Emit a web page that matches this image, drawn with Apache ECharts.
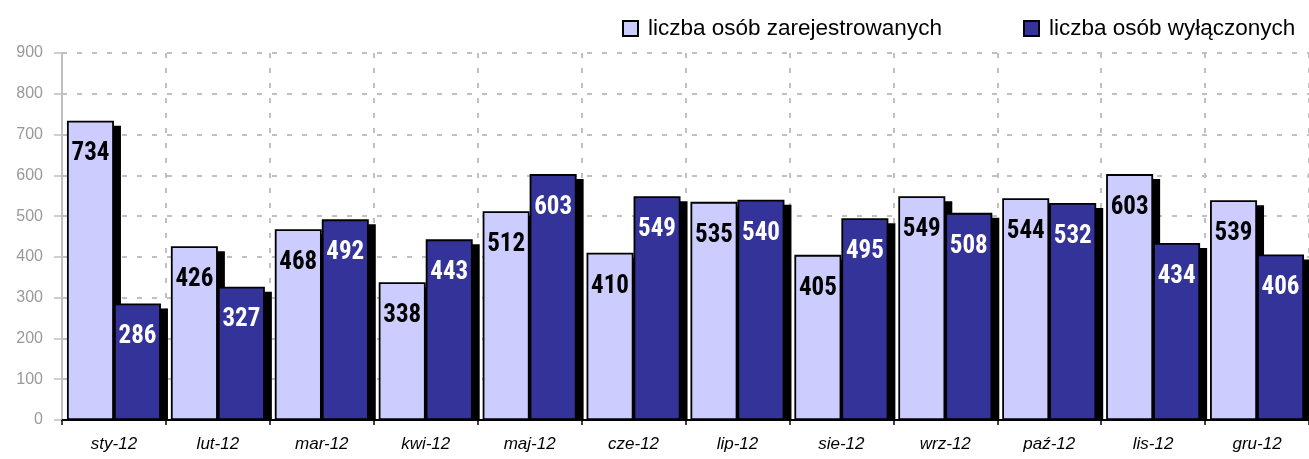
<!DOCTYPE html>
<html>
<head>
<meta charset="utf-8">
<script src="https://cdn.jsdelivr.net/npm/echarts@6/dist/echarts.min.js"></script>
<style>html,body{margin:0;padding:0;background:#fff;}#c{width:1309px;height:459px;}</style>
</head>
<body>
<div id="c"></div>
<script>
const categories = ['sty-12','lut-12','mar-12','kwi-12','maj-12','cze-12','lip-12','sie-12','wrz-12','paź-12','lis-12','gru-12'];
const registered = [734,426,468,338,512,410,535,405,549,544,603,539];
const excluded = [286,327,492,443,603,549,540,495,508,532,434,406];
const seriesNames = ['liczba osób zarejestrowanych','liczba osób wyłączonych'];
const yTicks = {min:0, max:900, interval:100};

const BAR_W = 47, SHX = 7, SHY = 5;
const chart = echarts.init(document.getElementById('c'), null, {renderer:'canvas'});
const shadowData = categories.map((c,i)=>[i, registered[i], excluded[i]]);
const narrow = '"Roboto Condensed","Liberation Sans Narrow","DejaVu Sans Condensed",sans-serif';
const legendText = {fontFamily:'"Liberation Sans",Arial,sans-serif', fontSize:22.5, color:'#000', padding:[0,0,0,5]};
chart.setOption({
  animation:false,
  backgroundColor:'#fff',
  grid:{left:62, top:53, bottom:39, width:1254, containLabel:false},
  legend:[
    {left:617, top:12, itemWidth:15, itemHeight:15, icon:'rect', data:[seriesNames[0]],
     itemStyle:{borderColor:'#000', borderWidth:2}, textStyle:legendText},
    {left:1018, top:12, itemWidth:15, itemHeight:15, icon:'rect', data:[seriesNames[1]],
     itemStyle:{borderColor:'#000', borderWidth:2}, textStyle:legendText}
  ],
  xAxis:{
    type:'category', data:categories, boundaryGap:true,
    axisLine:{lineStyle:{color:'#000', width:2}},
    axisTick:{show:true, interval:0, length:5, lineStyle:{color:'#000', width:1.5}},
    axisLabel:{interval:0, margin:16, color:'#000', fontSize:17, fontStyle:'italic', fontFamily:'"Liberation Sans",Arial,sans-serif'},
    splitLine:{show:true, interval:0, lineStyle:{color:'#c0c0c0', width:2, type:[5,10]}}
  },
  yAxis:{
    type:'value', min:yTicks.min, max:yTicks.max, interval:yTicks.interval,
    axisLine:{show:true, lineStyle:{color:'#c0c0c0', width:2}},
    axisTick:{show:true, length:8, lineStyle:{color:'#c0c0c0', width:1.5}},
    axisLabel:{margin:19, color:'#999', fontSize:16, fontFamily:'"Liberation Sans",Arial,sans-serif'},
    splitLine:{show:true, lineStyle:{color:'#c0c0c0', width:2, type:[5,10]}}
  },
  series:[
    {
      type:'custom', z:1, silent:true, clip:true,
      data:shadowData,
      encode:{x:0, y:[1,2]},
      renderItem:function(params, api){
        const i = api.value(0);
        const base = api.coord([i,0]);
        const pA = api.coord([i, api.value(1)]);
        const pB = api.coord([i, api.value(2)]);
        const c = base[0];
        return {type:'group', children:[
          {type:'rect', shape:{x:c-BAR_W+SHX, y:pA[1]+SHY, width:BAR_W, height:base[1]-pA[1]-SHY}, style:{fill:'#000'}},
          {type:'rect', shape:{x:c+SHX, y:pB[1]+SHY, width:BAR_W, height:base[1]-pB[1]-SHY}, style:{fill:'#000'}}
        ]};
      }
    },
    {
      name:seriesNames[0], type:'bar', z:2, data:registered, barWidth:BAR_W, barGap:'0%',
      itemStyle:{color:'#ccccff', borderColor:'#000', borderWidth:1.8},
      label:{show:true, position:'insideTop', distance:21, color:'#000', fontWeight:'bold', fontSize:25, fontFamily:narrow}
    },
    {
      name:seriesNames[1], type:'bar', z:2, data:excluded, barWidth:BAR_W, barGap:'0%',
      itemStyle:{color:'#333399', borderColor:'#000', borderWidth:1.8},
      label:{show:true, position:'insideTop', distance:21, color:'#fff', fontWeight:'bold', fontSize:25, fontFamily:narrow}
    }
  ]
});
</script>
</body>
</html>
